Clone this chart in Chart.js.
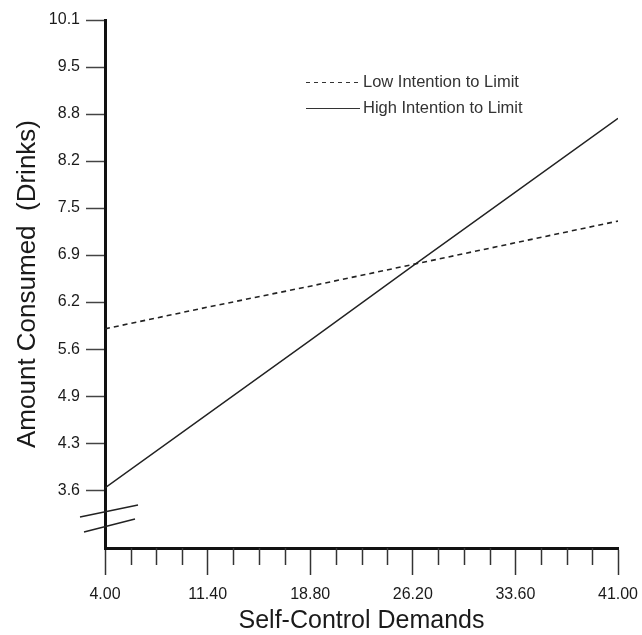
<!DOCTYPE html>
<html>
<head>
<meta charset="utf-8">
<script src="https://cdn.jsdelivr.net/npm/chart.js@4/dist/chart.umd.min.js"></script>
<style>
html,body{margin:0;padding:0;background:#fff;overflow:hidden;}
canvas{display:block;}
</style>
</head>
<body>
<canvas id="c" width="642" height="635"></canvas>
<script>
// ---- data ----
const xValues = [4.00, 11.40, 18.80, 26.20, 33.60, 41.00];
const xTickLabels = ['4.00', '11.40', '18.80', '26.20', '33.60', '41.00'];
const yTickLabels = ['3.6', '4.3', '4.9', '5.6', '6.2', '6.9', '7.5', '8.2', '8.8', '9.5', '10.1'];
const yTickValues = [3.6, 4.25, 4.9, 5.55, 6.2, 6.85, 7.5, 8.15, 8.8, 9.45, 10.1];
const lowIntention = [5.83, 6.13, 6.42, 6.72, 7.02, 7.32];
const highIntention = [3.63, 4.65, 5.67, 6.70, 7.72, 8.74];
const seriesNames = ['Low Intention to Limit', 'High Intention to Limit'];
const xTitle = 'Self-Control Demands';
const yTitle = 'Amount Consumed  (Drinks)';

const FONT = "'Liberation Sans', Arial, sans-serif";
const INK = '#1a1a1a';

// x ticks: majors at labelled values, 3 minor ticks between each pair
const xTickValues = [];
for (let i = 0; i < xValues.length - 1; i++) {
  for (let k = 0; k < 4; k++) xTickValues.push(xValues[i] + (xValues[i + 1] - xValues[i]) * k / 4);
}
xTickValues.push(xValues[xValues.length - 1]);

const decor = {
  id: 'decor',
  afterDraw(chart) {
    const ctx = chart.ctx;
    const xs = chart.scales.x;
    const ca = chart.chartArea;
    ctx.save();
    // minor x ticks
    ctx.strokeStyle = '#333';
    ctx.lineWidth = 1.5;
    xTickValues.forEach((v, i) => {
      if (i % 4 === 0) return;
      const px = Math.round(xs.getPixelForValue(v)) + 0.5;
      ctx.beginPath();
      ctx.moveTo(px, ca.bottom);
      ctx.lineTo(px, ca.bottom + 17);
      ctx.stroke();
    });
    // axis break marks
    ctx.strokeStyle = '#222';
    ctx.lineWidth = 1.4;
    ctx.beginPath();
    ctx.moveTo(ca.left - 25, ca.bottom - 31);
    ctx.lineTo(ca.left + 33, ca.bottom - 43);
    ctx.moveTo(ca.left - 21, ca.bottom - 16);
    ctx.lineTo(ca.left + 30, ca.bottom - 29);
    ctx.stroke();
    // legend
    const lx0 = ca.left + 201, lx1 = ca.left + 255;
    const rows = [82, 108];
    chart.data.datasets.forEach((ds, i) => {
      const y = rows[i];
      ctx.strokeStyle = '#333';
      ctx.lineWidth = 1;
      ctx.setLineDash(ds.borderDash ? [4, 4] : []);
      ctx.beginPath();
      ctx.moveTo(lx0, y + 0.5);
      ctx.lineTo(lx1, y + 0.5);
      ctx.stroke();
      ctx.setLineDash([]);
      ctx.fillStyle = '#333';
      ctx.font = '16.5px ' + FONT;
      ctx.textAlign = 'left';
      ctx.textBaseline = 'middle';
      ctx.fillText(ds.label, lx1 + 3, y);
    });
    ctx.restore();
  }
};

new Chart(document.getElementById('c'), {
  type: 'line',
  data: {
    labels: xValues,
    datasets: [
      {
        label: seriesNames[0],
        data: xValues.map((x, i) => ({x: x, y: lowIntention[i]})),
        borderColor: '#222',
        borderWidth: 1.6,
        borderDash: [5, 4],
        pointRadius: 0,
        tension: 0,
        fill: false
      },
      {
        label: seriesNames[1],
        data: xValues.map((x, i) => ({x: x, y: highIntention[i]})),
        borderColor: '#222',
        borderWidth: 1.4,
        pointRadius: 0,
        tension: 0,
        fill: false
      }
    ]
  },
  options: {
    responsive: false,
    animation: false,
    layout: {padding: {top: 20, right: 24, bottom: 0, left: 0}},
    plugins: {legend: {display: false}, tooltip: {enabled: false}},
    scales: {
      x: {
        type: 'linear',
        min: xValues[0],
        max: xValues[xValues.length - 1],
        afterBuildTicks: (s) => { s.ticks = xTickValues.map(v => ({value: v})); },
        afterFit: (s) => { s.height = 87; s.paddingRight = 0; s.paddingLeft = 0; },
        grid: {
          drawOnChartArea: false,
          drawTicks: true,
          tickLength: 27,
          tickWidth: 1.5,
          tickColor: (c) => (c.index % 4 === 0 ? '#333' : 'rgba(0,0,0,0)')
        },
        border: {display: true, color: '#111', width: 3},
        ticks: {
          autoSkip: false,
          maxRotation: 0,
          padding: 10,
          color: INK,
          font: {family: FONT, size: 16},
          callback: (v, i) => (i % 4 === 0 ? xTickLabels[i / 4] : '')
        },
        title: {
          display: true,
          text: xTitle,
          color: INK,
          font: {family: FONT, size: 25, lineHeight: 1},
          padding: {top: 0, bottom: 1}
        }
      },
      y: {
        type: 'linear',
        min: 2.8,
        max: yTickValues[yTickValues.length - 1],
        afterBuildTicks: (s) => { s.ticks = yTickValues.map(v => ({value: v})); },
        afterFit: (s) => { s.width = 105; s.paddingTop = 0; s.paddingBottom = 0; },
        grid: {
          drawOnChartArea: false,
          drawTicks: true,
          tickLength: 19,
          tickWidth: 1.5,
          tickColor: '#444'
        },
        border: {display: true, color: '#111', width: 3},
        ticks: {
          autoSkip: false,
          padding: 6,
          color: INK,
          font: {family: FONT, size: 16},
          callback: (v, i) => yTickLabels[i]
        },
        title: {
          display: true,
          text: yTitle,
          color: INK,
          font: {family: FONT, size: 26, lineHeight: 1},
          padding: {top: 15, bottom: 0}
        }
      }
    }
  },
  plugins: [decor]
});
</script>
</body>
</html>
